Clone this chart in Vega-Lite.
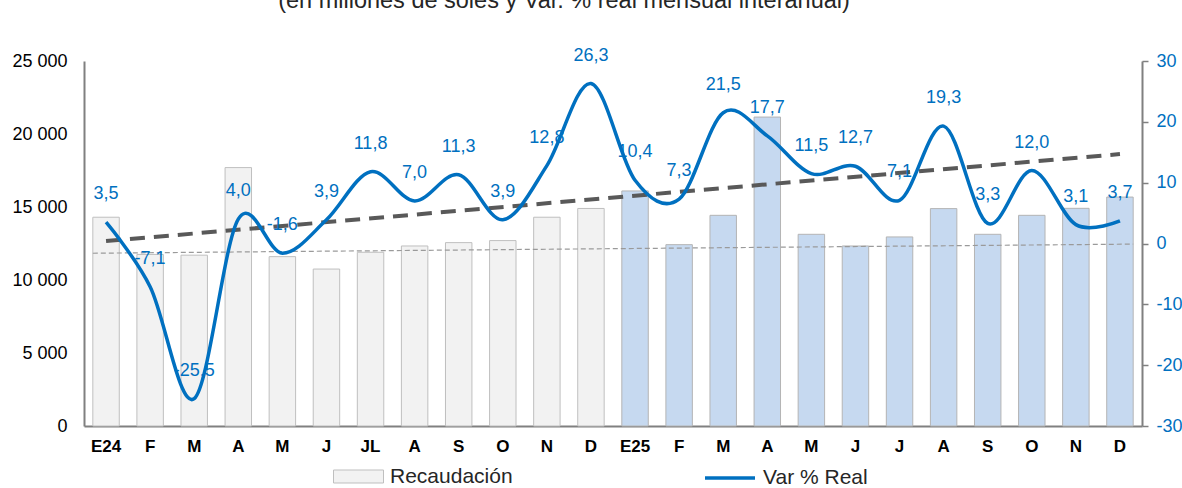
{
  "$schema": "https://vega.github.io/schema/vega-lite/v6.json",
  "width": 1058,
  "height": 365,
  "autosize": {"type": "none"},
  "padding": {"left": 84, "top": 61, "right": 40, "bottom": 62},
  "background": "white",
  "config": {
    "font": "Liberation Sans",
    "view": {"stroke": null},
    "locale": {"number": {"decimal": ",", "thousands": " ", "grouping": [3], "currency": ["", ""], "minus": "-"}}
  },
  "title": {
    "text": "(en millones de soles y Var. % real mensual interanual)",
    "fontSize": 23.5,
    "fontWeight": "normal",
    "color": "#262626",
    "anchor": "middle",
    "frame": "group",
    "dx": -49,
    "dy": 22,
    "offset": 37,
    "baseline": "alphabetic"
  },
  "datasets": {
    "main": [
      {"k": "01", "mes": "E24", "anio": "2024", "rec": 14300, "var": 3.5},
      {"k": "02", "mes": "F", "anio": "2024", "rec": 11750, "var": -7.1},
      {"k": "03", "mes": "M", "anio": "2024", "rec": 11700, "var": -25.5},
      {"k": "04", "mes": "A", "anio": "2024", "rec": 17700, "var": 4.0},
      {"k": "05", "mes": "M", "anio": "2024", "rec": 11600, "var": -1.6},
      {"k": "06", "mes": "J", "anio": "2024", "rec": 10750, "var": 3.9},
      {"k": "07", "mes": "JL", "anio": "2024", "rec": 11900, "var": 11.8},
      {"k": "08", "mes": "A", "anio": "2024", "rec": 12330, "var": 7.0},
      {"k": "09", "mes": "S", "anio": "2024", "rec": 12560, "var": 11.3},
      {"k": "10", "mes": "O", "anio": "2024", "rec": 12700, "var": 3.9},
      {"k": "11", "mes": "N", "anio": "2024", "rec": 14300, "var": 12.8},
      {"k": "12", "mes": "D", "anio": "2024", "rec": 14900, "var": 26.3},
      {"k": "13", "mes": "E25", "anio": "2025", "rec": 16100, "var": 10.4},
      {"k": "14", "mes": "F", "anio": "2025", "rec": 12420, "var": 7.3},
      {"k": "15", "mes": "M", "anio": "2025", "rec": 14430, "var": 21.5},
      {"k": "16", "mes": "A", "anio": "2025", "rec": 21160, "var": 17.7},
      {"k": "17", "mes": "M", "anio": "2025", "rec": 13130, "var": 11.5},
      {"k": "18", "mes": "J", "anio": "2025", "rec": 12330, "var": 12.7},
      {"k": "19", "mes": "J", "anio": "2025", "rec": 12950, "var": 7.1},
      {"k": "20", "mes": "A", "anio": "2025", "rec": 14890, "var": 19.3},
      {"k": "21", "mes": "S", "anio": "2025", "rec": 13130, "var": 3.3},
      {"k": "22", "mes": "O", "anio": "2025", "rec": 14430, "var": 12.0},
      {"k": "23", "mes": "N", "anio": "2025", "rec": 14910, "var": 3.1},
      {"k": "24", "mes": "D", "anio": "2025", "rec": 15680, "var": 3.7}
    ],
    "trend": [
      {"k": "01", "tend": 0.4},
      {"k": "24", "tend": 14.7}
    ],
    "ref": [
      {"k": "01", "k2": "24", "y1": -1.6, "y2": -0.1}
    ]
  },
  "layer": [
    {
      "layer": [
        {
          "data": {"name": "main"},
          "transform": [{"filter": "datum.anio == '2024'"}],
          "mark": {"type": "bar", "stroke": "#bfbfbf", "strokeWidth": 1},
          "encoding": {
            "x": {
              "field": "k", "type": "ordinal",
              "scale": {"paddingInner": 0.4, "paddingOuter": 0.2},
              "axis": {
                "title": null,
                "labelExpr": "['E24','F','M','A','M','J','JL','A','S','O','N','D','E25','F','M','A','M','J','J','A','S','O','N','D'][toNumber(datum.value)-1]",
                "labelAngle": 0,
                "labelFontWeight": "bold",
                "labelFontSize": 17,
                "labelColor": "#000000",
                "labelPadding": 12,
                "ticks": false,
                "domainColor": "#808080",
                "domainWidth": 2,
                "grid": false
              }
            },
            "y": {
              "field": "rec", "type": "quantitative",
              "scale": {"domain": [0, 25000], "nice": false},
              "axis": {
                "title": null,
                "values": [0, 5000, 10000, 15000, 20000, 25000],
                "format": ",d",
                "grid": false,
                "ticks": false,
                "domainColor": "#808080",
                "domainWidth": 2,
                "labelFontSize": 18,
                "labelPadding": 17,
                "labelColor": "#000000"
              }
            },
            "fill": {
              "datum": "Recaudación",
              "scale": {"range": ["#f2f2f2"]},
              "legend": {
                "title": null,
                "orient": "none",
                "legendX": 249,
                "legendY": 390,
                "direction": "horizontal",
                "symbolType": "M-1,-0.26H1V0.26H-1Z",
                "symbolSize": 2500,
                "symbolStrokeColor": "#bfbfbf",
                "symbolStrokeWidth": 1,
                "symbolOpacity": 1,
                "labelFontSize": 21,
                "labelColor": "#262626",
                "labelOffset": 6,
                "padding": 0
              }
            }
          }
        },
        {
          "data": {"name": "main"},
          "transform": [{"filter": "datum.anio == '2025'"}],
          "mark": {"type": "bar", "fill": "#c6d9f0", "stroke": "#b4b4b4", "strokeWidth": 1},
          "encoding": {
            "x": {"field": "k", "type": "ordinal"},
            "y": {"field": "rec", "type": "quantitative"}
          }
        }
      ]
    },
    {
      "layer": [
        {
          "data": {"name": "ref"},
          "mark": {"type": "rule", "color": "#9a9a9a", "strokeWidth": 1.2, "strokeDash": [5, 3]},
          "encoding": {
            "x": {"field": "k", "type": "ordinal", "bandPosition": 0},
            "x2": {"field": "k2", "bandPosition": 1},
            "y": {
              "field": "y1", "type": "quantitative",
              "scale": {"domain": [-30, 30], "nice": false},
              "axis": {
                "orient": "right",
                "title": null,
                "values": [-30, -20, -10, 0, 10, 20, 30],
                "format": "d",
                "grid": false,
                "tickSize": 6,
                "tickColor": "#808080",
                "tickWidth": 1.5,
                "domainColor": "#808080",
                "domainWidth": 2,
                "labelColor": "#0070c0",
                "labelFontSize": 18,
                "labelPadding": 8
              }
            },
            "y2": {"field": "y2"}
          }
        },
        {
          "data": {"name": "trend"},
          "mark": {"type": "line", "color": "#595959", "strokeWidth": 4, "strokeDash": [15, 9]},
          "encoding": {
            "x": {"field": "k", "type": "ordinal"},
            "y": {"field": "tend", "type": "quantitative"}
          }
        },
        {
          "data": {"name": "main"},
          "mark": {"type": "line", "interpolate": "cardinal", "strokeWidth": 3.5},
          "encoding": {
            "x": {"field": "k", "type": "ordinal"},
            "y": {"field": "var", "type": "quantitative"},
            "stroke": {
              "datum": "Var % Real",
              "scale": {"range": ["#0070c0"]},
              "legend": {
                "title": null,
                "orient": "none",
                "legendX": 619,
                "legendY": 390,
                "direction": "horizontal",
                "symbolType": "stroke",
                "symbolSize": 2500,
                "symbolStrokeWidth": 3.5,
                "labelFontSize": 21,
                "labelColor": "#262626",
                "labelOffset": 6,
                "padding": 0
              }
            }
          }
        },
        {
          "data": {"name": "main"},
          "mark": {"type": "text", "dy": -28, "fontSize": 18, "color": "#0070c0"},
          "encoding": {
            "x": {"field": "k", "type": "ordinal"},
            "y": {"field": "var", "type": "quantitative"},
            "text": {"field": "var", "type": "quantitative", "format": ".1f"}
          }
        }
      ]
    }
  ],
  "resolve": {"scale": {"y": "independent"}}
}
